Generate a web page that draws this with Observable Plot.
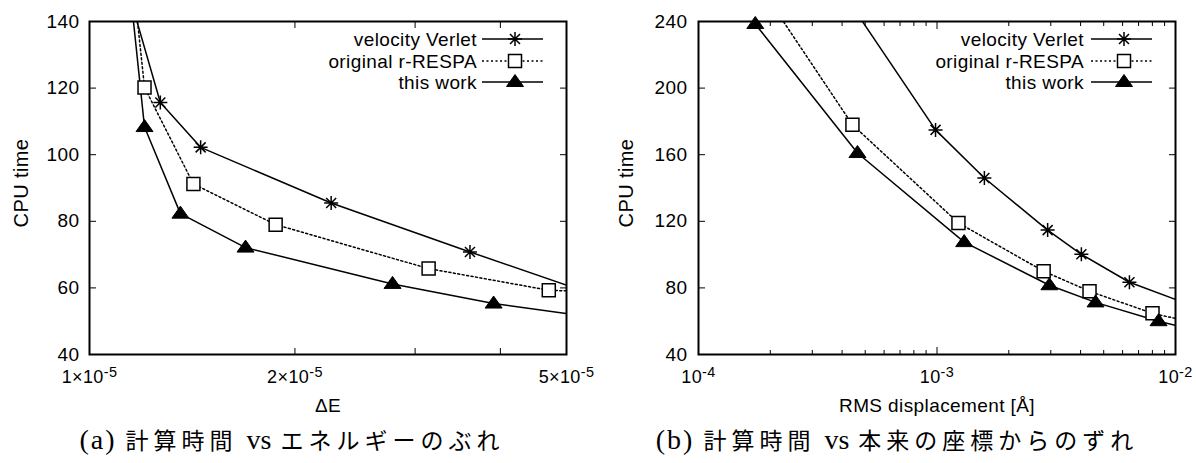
<!DOCTYPE html>
<html><head><meta charset="utf-8">
<script src="https://cdn.jsdelivr.net/npm/d3@7"></script>
<script src="https://cdn.jsdelivr.net/npm/@observablehq/plot@0.6"></script>
<style>
body{margin:0;background:#fff;}
#wrap{position:relative;width:1196px;height:463px;background:#fff;overflow:hidden;}
.panel{position:absolute;top:0;width:598px;}
.cap{position:absolute;top:424px;height:30px;line-height:30px;white-space:nowrap;transform:translateX(-50%);color:#000;}
.cap .lat{font-family:"Liberation Serif",serif;font-size:28px;}
.cap .lat.paren{letter-spacing:2px;}
.cap .cjk{font-family:"Noto Sans CJK JP",sans-serif;font-size:23px;letter-spacing:5px;}
.cap .sp{display:inline-block;width:9px;}
</style></head><body><div id="wrap"></div>
<script>
// ---------- data ----------
const seriesNames = ["velocity Verlet", "original r-RESPA", "this work"];

// Panel (a): CPU time vs ΔE (first / last entries lie outside the window and are clipped)
const aVerletDE  = [1.10e-5, 1.27e-5, 1.455e-5, 2.26e-5, 3.61e-5, 6.0e-5];
const aVerletCPU = [160, 115.7, 102.2, 85.5, 70.8, 55.2];
const aRespaDE   = [1.148e-5, 1.204e-5, 1.42e-5, 1.874e-5, 3.14e-5, 4.71e-5, 6.0e-5];
const aRespaCPU  = [160, 120.2, 91.2, 79.0, 65.8, 59.3, 58.5];
const aThisDE    = [1.133e-5, 1.204e-5, 1.359e-5, 1.693e-5, 2.78e-5, 3.91e-5, 6.0e-5];
const aThisCPU   = [160, 108.3, 82.3, 72.1, 61.2, 55.3, 50.1];

// Panel (b): CPU time vs RMS displacement
const bVerletRMS = [3.92e-4, 9.86e-4, 1.58e-3, 2.91e-3, 4.03e-3, 6.41e-3, 1.27e-2];
const bVerletCPU = [260, 174.9, 146, 114.7, 100.2, 83.4, 67.5];
const bRespaRMS  = [1.83e-4, 4.42e-4, 1.23e-3, 2.80e-3, 4.36e-3, 8.01e-3, 1.27e-2];
const bRespaCPU  = [260, 178, 119, 90, 78, 64.7, 58.4];
const bThisRMS   = [1.73e-4, 4.64e-4, 1.30e-3, 2.96e-3, 4.62e-3, 8.49e-3, 1.27e-2];
const bThisCPU   = [238.5, 161, 107.5, 81.6, 71.3, 60, 53.9];

// ticks
const aXMajor = [1e-5, 2e-5, 5e-5];
const aXMajorLabels = ["1×10^-5", "2×10^-5", "5×10^-5"];
const aXMinor = [3e-5, 4e-5];
const aYTicks = [40, 60, 80, 100, 120, 140];
const bXMajor = [1e-4, 1e-3, 1e-2];
const bXMajorLabels = ["10^-4", "10^-3", "10^-2"];
const bXMinor = [2e-4,3e-4,4e-4,5e-4,6e-4,7e-4,8e-4,9e-4,2e-3,3e-3,4e-3,5e-3,6e-3,7e-3,8e-3,9e-3];
const bYTicks = [40, 80, 120, 160, 200, 240];

// captions: [text, kind]
const captionA = [["(a)", "lat paren"], ["計算時間", "cjk"], ["vs", "lat"], ["エネルギーのぶれ", "cjk"]];
const captionB = [["(b)", "lat paren"], ["計算時間", "cjk"], ["vs", "lat"], ["本来の座標からのずれ", "cjk"]];

// ---------- symbols ----------
const symStar = {draw(c){const r=7,d=5;c.moveTo(-r,0);c.lineTo(r,0);c.moveTo(0,-r);c.lineTo(0,r);c.moveTo(-d,-d);c.lineTo(d,d);c.moveTo(-d,d);c.lineTo(d,-d);}};
const symSquare = {draw(c){const h=6.5;c.moveTo(-h,-h);c.lineTo(h,-h);c.lineTo(h,h);c.lineTo(-h,h);c.closePath();}};
const symTri = {draw(c){c.moveTo(0,-7.5);c.lineTo(8.5,4.5);c.lineTo(-8.5,4.5);c.closePath();}};
const styles = [
  {symbol: symStar, fill: "none", dash: null, sw: 1.5},
  {symbol: symSquare, fill: "white", dash: "2,2.5", sw: 1.5},
  {symbol: symTri, fill: "black", dash: null, sw: 1}
];

const W = 598, H = 420, MT = 21, MB = 66;
const FONT = "'Liberation Sans', Arial, sans-serif";

function makePanel(cfg) {
  const marks = [];
  cfg.xs.forEach((xs, i) => {
    const rows = xs.map((x, j) => ({x, y: cfg.ys[i][j]}));
    marks.push(Plot.line(rows, {x: "x", y: "y", stroke: "black", strokeWidth: 1.5,
      strokeDasharray: styles[i].dash || undefined, clip: true}));
  });
  cfg.xs.forEach((xs, i) => {
    const rows = xs.map((x, j) => ({x, y: cfg.ys[i][j]}))
      .filter(d => d.x >= cfg.xDomain[0] && d.x <= cfg.xDomain[1] && d.y >= cfg.yDomain[0] && d.y <= cfg.yDomain[1]);
    marks.push(Plot.dot(rows, {x: "x", y: "y", symbol: styles[i].symbol, r: 5,
      fill: styles[i].fill, stroke: "black", strokeWidth: styles[i].sw}));
  });
  marks.push(Plot.frame({stroke: "black", strokeWidth: 2}));
  // inward ticks, all four sides
  marks.push(Plot.axisX(cfg.xMajor, {anchor: "bottom", tickSize: -cfg.xMajorLen, fill: "none", label: null}));
  marks.push(Plot.axisX(cfg.xMajor, {anchor: "top", tickSize: -cfg.xMajorLen, fill: "none", label: null}));
  marks.push(Plot.axisX(cfg.xMinor, {anchor: "bottom", tickSize: -cfg.xMinorLen, fill: "none", label: null}));
  marks.push(Plot.axisX(cfg.xMinor, {anchor: "top", tickSize: -cfg.xMinorLen, fill: "none", label: null}));
  marks.push(Plot.axisY(cfg.yTicks, {anchor: "left", tickSize: -7, fill: "none", label: null}));
  marks.push(Plot.axisY(cfg.yTicks, {anchor: "right", tickSize: -7, fill: "none", label: null}));
  // tick labels
  marks.push(Plot.axisX(cfg.xMajor, {anchor: "bottom", tickSize: 0, tickPadding: 16, label: null,
    fontSize: 18, tickFormat: d => cfg.xMajorLabels[cfg.xMajor.indexOf(d)]}));
  marks.push(Plot.axisY(cfg.yTicks, {anchor: "left", tickSize: 0, tickPadding: cfg.yPad, label: null, fontSize: 19}));
  // axis titles
  marks.push(Plot.text([cfg.xLabel], {text: d => d, frameAnchor: "bottom", dy: 51, fontSize: 19, lineAnchor: "middle"}));
  marks.push(Plot.text(["CPU time"], {text: d => d, frameAnchor: "left", dx: cfg.ylabDx, dy: cfg.ylabDy,
    rotate: -90, fontSize: 20, textAnchor: "middle", lineAnchor: "middle"}));

  const svg = Plot.plot({
    width: W, height: H, marginTop: MT, marginBottom: MB,
    marginLeft: cfg.marginLeft, marginRight: cfg.marginRight,
    x: {type: "log", domain: cfg.xDomain},
    y: {domain: cfg.yDomain},
    style: {fontFamily: FONT, fontSize: "18px", letterSpacing: "0.4px", color: "black", background: "transparent", overflow: "visible"},
    marks
  });

  const yTickStrings = cfg.yTicks.map(String);
  svg.querySelectorAll("text").forEach(t => {
    const s = t.textContent;
    if (yTickStrings.includes(s)) { t.style.fontSize = "19px"; return; }
    const k = s.indexOf("^");
    if (k < 0) return;
    // x tick label with superscript exponent
    t.style.fontSize = "18px";
    t.textContent = "";
    t.appendChild(document.createTextNode(s.slice(0, k)));
    const sp = document.createElementNS("http://www.w3.org/2000/svg", "tspan");
    sp.setAttribute("dy", "-0.42em");
    sp.setAttribute("style", "font-size:80%");
    sp.textContent = s.slice(k + 1);
    t.appendChild(sp);
  });

  // legend (top right, inside frame)
  const g = d3.select(svg).append("g").attr("class", "legend").attr("font-family", FONT);
  const right = W - cfg.marginRight;
  const rowDy = [18, 40, 61];
  seriesNames.forEach((name, i) => {
    const y = MT + rowDy[i];
    g.append("text").attr("x", right - cfg.legTextOff).attr("y", y).attr("dy", "0.35em")
      .attr("text-anchor", "end").attr("font-size", 19).attr("fill", "black").text(name);
    g.append("line").attr("x1", right - 84).attr("x2", right - 23).attr("y1", y).attr("y2", y)
      .attr("stroke", "black").attr("stroke-width", 1.5)
      .attr("stroke-dasharray", styles[i].dash);
    g.append("path").attr("transform", `translate(${right - 51},${y})`)
      .attr("d", d3.symbol(styles[i].symbol)())
      .attr("fill", styles[i].fill).attr("stroke", "black").attr("stroke-width", styles[i].sw);
  });
  return svg;
}

const wrap = document.getElementById("wrap");

const pa = document.createElement("div"); pa.className = "panel"; pa.style.left = "0px";
pa.appendChild(makePanel({
  xs: [aVerletDE, aRespaDE, aThisDE], ys: [aVerletCPU, aRespaCPU, aThisCPU],
  xDomain: [1e-5, 5e-5], yDomain: [40, 140],
  xMajor: aXMajor, xMajorLabels: aXMajorLabels, xMinor: aXMinor, yTicks: aYTicks,
  xMajorLen: 6, xMinorLen: 6, yPad: 10,
  xLabel: "ΔE", marginLeft: 89, marginRight: W - 566,
  ylabDx: -68, ylabDy: -5, legTextOff: 89
}));
wrap.appendChild(pa);

const pb = document.createElement("div"); pb.className = "panel"; pb.style.left = "598px";
pb.appendChild(makePanel({
  xs: [bVerletRMS, bRespaRMS, bThisRMS], ys: [bVerletCPU, bRespaCPU, bThisCPU],
  xDomain: [1e-4, 1e-2], yDomain: [40, 240],
  xMajor: bXMajor, xMajorLabels: bXMajorLabels, xMinor: bXMinor, yTicks: bYTicks,
  xMajorLen: 7, xMinorLen: 4, yPad: 11,
  xLabel: "RMS displacement [Å]", marginLeft: 100, marginRight: W - 577,
  ylabDx: -72, ylabDy: -5, legTextOff: 91
}));
wrap.appendChild(pb);

[[captionA, 292], [captionB, 897]].forEach(([parts, cx]) => {
  const d = document.createElement("div"); d.className = "cap"; d.style.left = cx + "px";
  parts.forEach(([t, kind], i) => {
    if (i > 0) { const s = document.createElement("span"); s.className = "sp"; d.appendChild(s); }
    const s = document.createElement("span"); s.className = kind; s.textContent = t;
    d.appendChild(s);
  });
  wrap.appendChild(d);
});
</script></body></html>
